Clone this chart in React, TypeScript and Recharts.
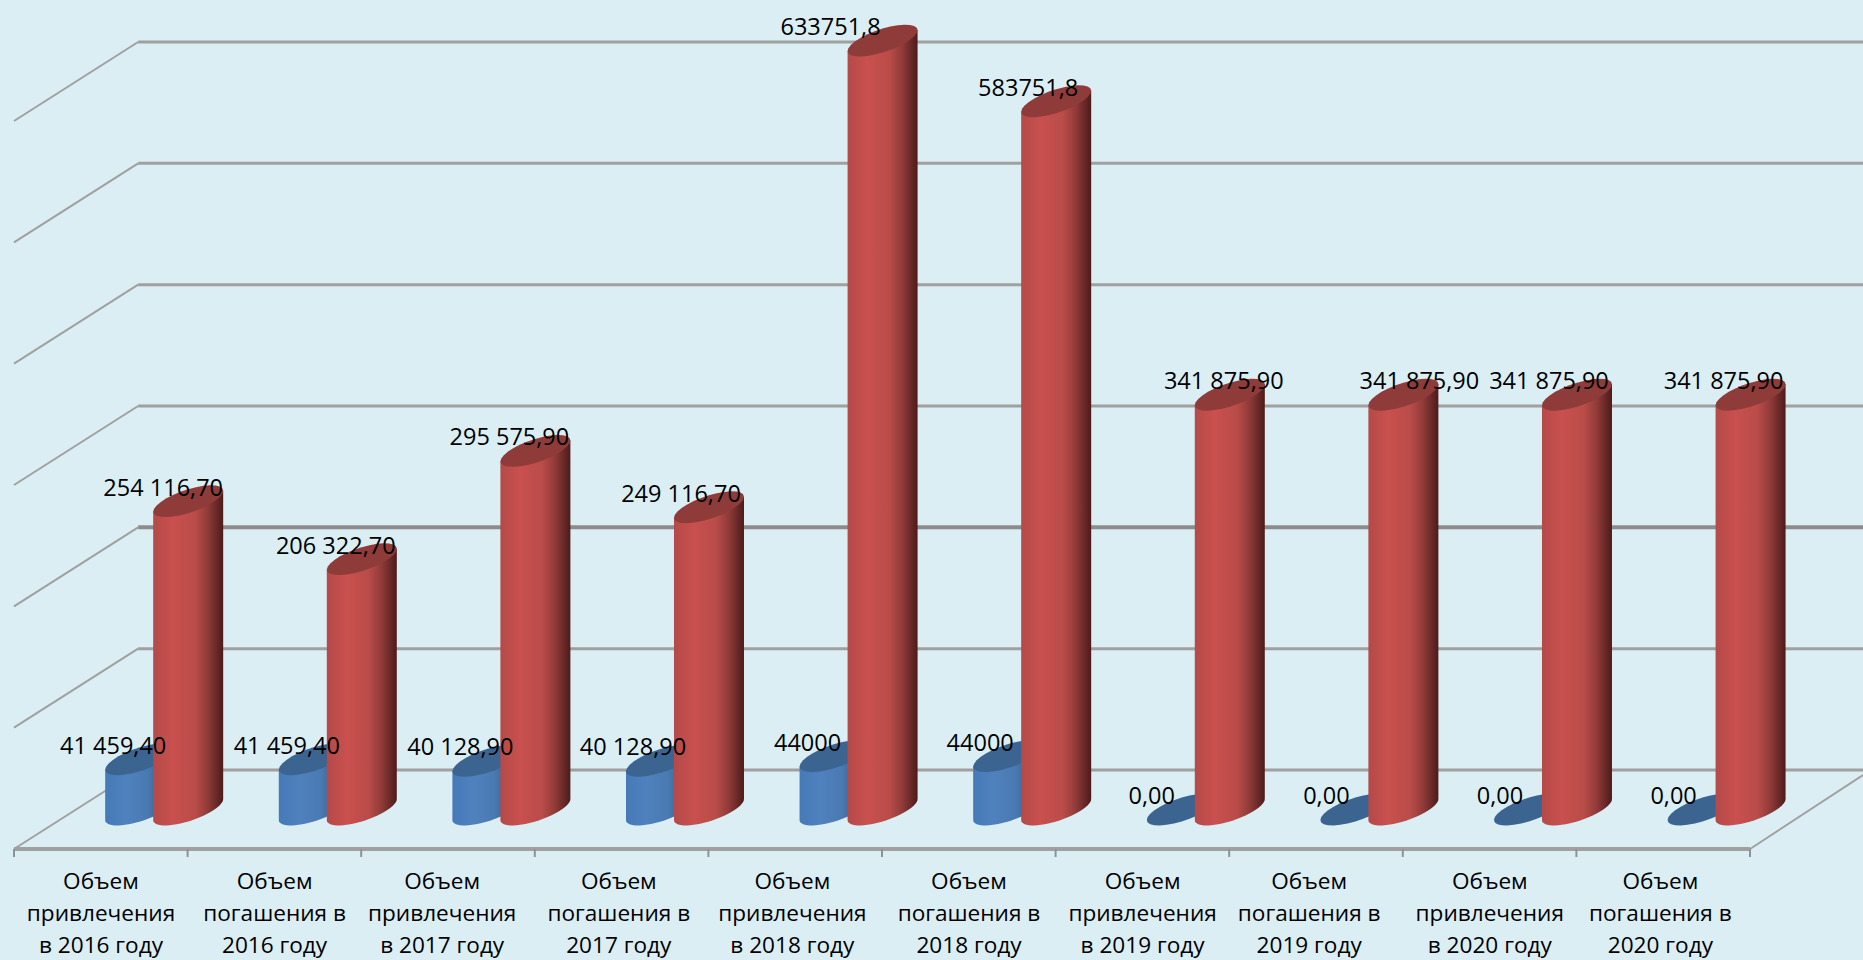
import { ComposedChart, Bar, XAxis, YAxis, LabelList, ReferenceLine } from 'recharts'

// Значения читаются с картинки: пары "привлечение / погашение" по годам
const categories = [
  'Объем\nпривлечения\nв 2016 году',
  'Объем\nпогашения в\n2016 году',
  'Объем\nпривлечения\nв 2017 году',
  'Объем\nпогашения в\n2017 году',
  'Объем\nпривлечения\nв 2018 году',
  'Объем\nпогашения в\n2018 году',
  'Объем\nпривлечения\nв 2019 году',
  'Объем\nпогашения в\n2019 году',
  'Объем\nпривлечения\nв 2020 году',
  'Объем\nпогашения в\n2020 году',
]
const blueValues = [41459.4, 41459.4, 40128.9, 40128.9, 44000, 44000, 0, 0, 0, 0]
const redValues = [254116.7, 206322.7, 295575.9, 249116.7, 633751.8, 583751.8, 341875.9, 341875.9, 341875.9, 341875.9]
const blueLabels = ['41 459,40', '41 459,40', '40 128,90', '40 128,90', '44000', '44000', '0,00', '0,00', '0,00', '0,00']
const redLabels = ['254 116,70', '206 322,70', '295 575,90', '249 116,70', '633751,8', '583751,8', '341 875,90', '341 875,90', '341 875,90', '341 875,90']
const wallTicks = [0, 100000, 200000, 300000, 400000, 500000, 600000]

const data = categories.map((name, i) => ({ i, name, blue: blueValues[i], red: redValues[i] }))

const WIDTH = 1863
const HEIGHT = 960
const FONT = '"Open Sans", sans-serif'

// Псевдо-3D: смещение задней стенки относительно передней кромки пола
const X_MIN = -0.864
const X_MAX = 9.787
const X_BACK = -0.149
const Y_MIN = -23902
const Y_MAX = 675843
const Y_BACK = 41210
const X_FRONT_END = 9.136
const DEPTH_PX = 62
const TICK_DROP = 6593
const GRID = '#a0a0a0'
const GRID_DARK = '#8c8c8c'
const BEHIND = -100

// Сдвиги подписей, как в исходнике
const blueLabelShift = [8, 8, 8, 7, 8, 7, 5, 6, 6, 6]
const redLabelShift = [10, 9, 9, 7, -17, 7, 29, 51, 7, 8]
const tickNudge = [-1, -1, -7, -4, -4, -1, -1, -8, -1, -4]

// Скошенный эллипс: основание и крышка цилиндра
function ellipsePoints(cx: number, cy: number, w: number, from: number, to: number) {
  const pts: string[] = []
  const n = 28
  for (let k = 0; k <= n; k++) {
    const t = from + ((to - from) * k) / n
    pts.push(`${cx + (w / 2) * Math.cos(t)},${cy - 10.5 * Math.cos(t) + 12 * Math.sin(t)}`)
  }
  return pts
}

function Cylinder({ x, y, width, height, body, top }: any) {
  const cx = x + width / 2
  const topCy = y - 10.5
  const baseCy = y + height - 10.5
  const cap = <polygon points={ellipsePoints(cx, topCy, width, 0, Math.PI * 2).join(' ')} fill={top} />
  if (!height) return cap
  const lower = ellipsePoints(cx, baseCy, width, Math.PI, 0)
  const d = `M${x},${y} L${lower.join(' L')} L${x + width},${y - 21} Z`
  return (
    <g>
      <path d={d} fill={body} />
      {cap}
    </g>
  )
}

function valueLabel(texts: string[], shifts: number[]) {
  return ({ x, y, index }: any) => (
    <text x={x + shifts[index]} y={y - 16} textAnchor="middle" fontFamily={FONT} fontSize={23.5} fill="#000">
      {texts[index]}
    </text>
  )
}

function CategoryTick({ x, payload }: any) {
  const i = payload.value
  const lines = categories[i].split('\n')
  return (
    <text textAnchor="middle" fontFamily={FONT} fontSize={22.6} fill="#000">
      {lines.map((line, n) => (
        <tspan key={n} x={x - DEPTH_PX + tickNudge[i]} y={888.5 + n * 32}>
          {line}
        </tspan>
      ))}
    </text>
  )
}

export default function App() {
  return (
    <div style={{ position: 'absolute', left: 0, top: 0, width: WIDTH, height: HEIGHT, background: '#dbeef4', overflow: 'hidden' }}>
      <ComposedChart
        width={WIDTH}
        height={HEIGHT}
        data={data}
        margin={{ top: 0, right: 0, bottom: 0, left: 14 }}
        barSize={70}
        barGap={-22}
      >
        <defs>
          <linearGradient id="redBody" x1="0" y1="0" x2="1" y2="0">
            <stop offset="0" stopColor="#b44a48" />
            <stop offset="0.28" stopColor="#c9504e" />
            <stop offset="0.6" stopColor="#b94c49" />
            <stop offset="0.78" stopColor="#903b39" />
            <stop offset="1" stopColor="#4c1b1a" />
          </linearGradient>
          <linearGradient id="blueBody" x1="0" y1="0" x2="1" y2="0">
            <stop offset="0" stopColor="#457ab8" />
            <stop offset="0.3" stopColor="#4f81bd" />
            <stop offset="0.6" stopColor="#4a7ab2" />
            <stop offset="1" stopColor="#2b4a6e" />
          </linearGradient>
        </defs>

        <XAxis
          dataKey="i"
          type="number"
          domain={[X_MIN, X_MAX]}
          allowDataOverflow
          ticks={data.map((d) => d.i)}
          interval={0}
          axisLine={false}
          tickLine={false}
          height={111}
          tick={<CategoryTick />}
        />
        <YAxis hide domain={[Y_MIN, Y_MAX]} allowDataOverflow />

        {/* задняя стенка и боковая стенка */}
        {wallTicks.map((v) => (
          <ReferenceLine
            key={v}
            zIndex={BEHIND}
            ifOverflow="visible"
            stroke={v === 200000 ? GRID_DARK : GRID}
            strokeWidth={v === 200000 ? 4 : 3}
            segment={[
              { x: X_BACK, y: v + Y_BACK },
              { x: X_MAX, y: v + Y_BACK },
            ]}
          />
        ))}
        {wallTicks.map((v) => (
          <ReferenceLine
            key={`side${v}`}
            zIndex={BEHIND}
            ifOverflow="visible"
            stroke={GRID}
            strokeWidth={2}
            segment={[
              { x: X_MIN, y: v + Y_MIN },
              { x: X_BACK, y: v + Y_BACK },
            ]}
          />
        ))}

        {/* пол: передняя кромка, засечки, правая грань */}
        <ReferenceLine
          zIndex={BEHIND}
          ifOverflow="visible"
          stroke={GRID}
          strokeWidth={2}
          segment={[
            { x: X_FRONT_END, y: Y_MIN },
            { x: X_MAX, y: 37089 },
          ]}
        />
        <ReferenceLine
          zIndex={BEHIND}
          ifOverflow="visible"
          stroke={GRID}
          strokeWidth={4}
          segment={[
            { x: X_MIN, y: Y_MIN },
            { x: X_FRONT_END, y: Y_MIN },
          ]}
        />
        {categories.concat('').map((_, i) => (
          <ReferenceLine
            key={`tick${i}`}
            zIndex={BEHIND}
            ifOverflow="visible"
            stroke="#8f9294"
            strokeWidth={2}
            segment={[
              { x: X_MIN + i, y: Y_MIN },
              { x: X_MIN + i, y: Y_MIN - TICK_DROP },
            ]}
          />
        ))}

        <Bar dataKey="blue" isAnimationActive={false} shape={(p: any) => <Cylinder {...p} body="url(#blueBody)" top="#3b6491" />}>
          <LabelList content={valueLabel(blueLabels, blueLabelShift)} />
        </Bar>
        <Bar dataKey="red" isAnimationActive={false} shape={(p: any) => <Cylinder {...p} body="url(#redBody)" top="#8e3b3a" />}>
          <LabelList content={valueLabel(redLabels, redLabelShift)} />
        </Bar>
      </ComposedChart>
    </div>
  )
}
